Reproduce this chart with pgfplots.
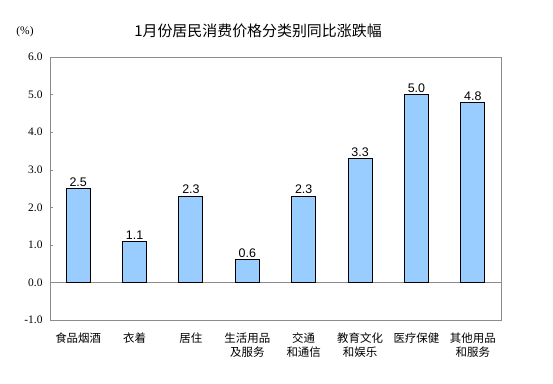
\documentclass[border=0pt]{standalone}
\usepackage{fontspec}
\usepackage{pgfplots}
\pgfplotsset{compat=1.18}
\setmainfont{Liberation Sans}
\newfontfamily\cjk{Noto Sans CJK SC}
\newfontfamily\serif{Liberation Serif}
\definecolor{barblue}{HTML}{99CCFF}
\definecolor{axgray}{HTML}{8C8C8C}
\begin{document}
\begin{tikzpicture}
\useasboundingbox (0bp,0bp) rectangle (553bp,384bp);
\begin{axis}[
  at={(50bp,64bp)}, anchor=south west,
  width=451bp, height=263bp, scale only axis,
  ymin=-1, ymax=6, ytick={-1,0,...,6},
  xmin=-0.5, xmax=7.5,
  xtick={0,...,7},
  xticklabels={食品烟酒,衣着,居住,{生活用品\\及服务},{交通\\和通信},{教育文化\\和娱乐},医疗保健,{其他用品\\和服务}},
  xticklabel style={font=\cjk\fontsize{11.5}{14}\selectfont, align=center, anchor=north, yshift=-6bp},
  major x tick style={draw=none},
  ytick pos=left,
  axis line style={axgray},
  major tick style={axgray},
  major tick length=3bp,
  yticklabel={\serif\fontsize{11.5}{12}\selectfont\pgfmathprintnumber[fixed,fixed zerofill,precision=1,assume math mode=true]{\tick}},
  yticklabel style={xshift=-4bp},
  extra y ticks={0},
  extra y tick labels={},
  extra y tick style={grid=major, grid style={axgray, line width=0.8bp}, major tick length=0pt},
  ybar, bar width=24bp,
  nodes near coords={\pgfmathprintnumber[fixed,fixed zerofill,precision=1,assume math mode=true]{\pgfplotspointmeta}},
  nodes near coords style={font=\fontsize{12.5}{12.5}\selectfont, inner sep=1.5bp},
]
\addplot[fill=barblue, draw=black, line width=0.9bp] coordinates {
(0,2.5) (1,1.1) (2,2.3) (3,0.6) (4,2.3) (5,3.3) (6,5.0) (7,4.8)
};
\end{axis}
\node[font=\cjk\fontsize{15}{15}\selectfont] at (258bp,353bp) {1月份居民消费价格分类别同比涨跌幅};
\node[font=\serif\fontsize{11.5}{11.5}\selectfont] at (25bp,352bp) {(\%)};
\end{tikzpicture}
\end{document}
